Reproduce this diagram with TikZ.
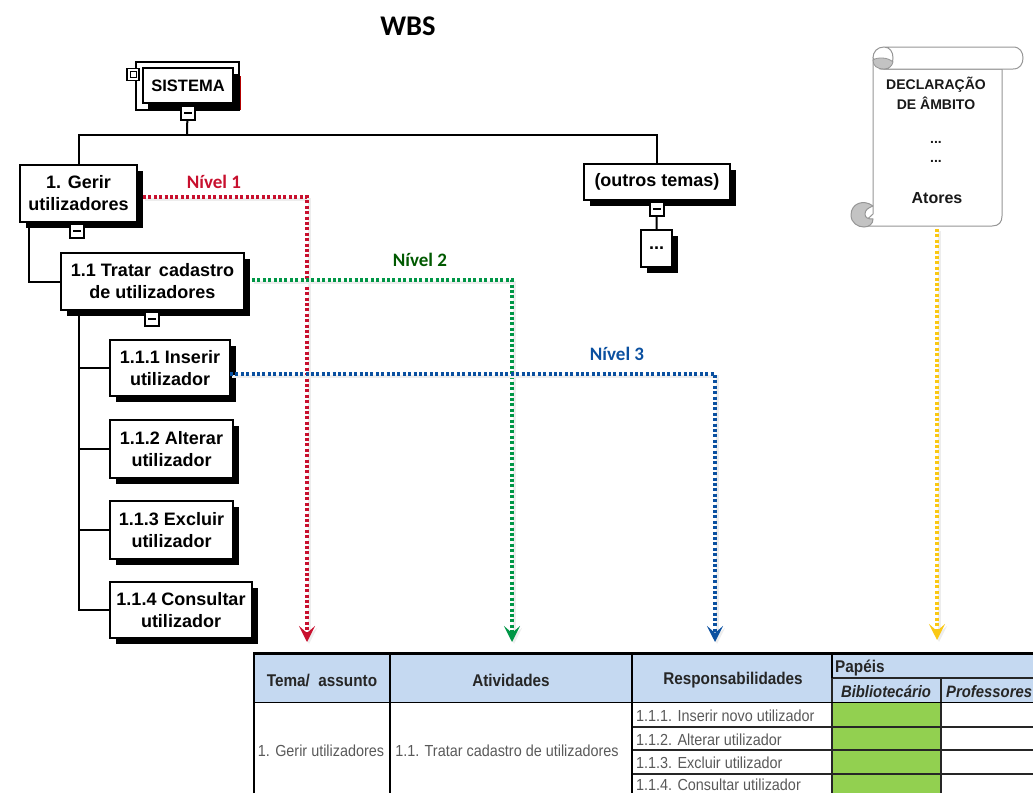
\documentclass[tikz,border=0pt]{standalone}
\usepackage{fontspec}
\setmainfont{Liberation Sans}
\newfontfamily\titlefont{Carlito}
\newfontfamily\narrowfont[FakeStretch=0.9]{Liberation Sans}
\usetikzlibrary{arrows.meta,shadows}
\definecolor{nivelred}{RGB}{200,16,46}
\definecolor{nivelgreen}{RGB}{0,150,70}
\definecolor{nivelblue}{RGB}{10,80,160}
\definecolor{atorgold}{RGB}{250,200,20}
\definecolor{headblue}{RGB}{197,217,241}
\definecolor{papelgreen}{RGB}{146,208,80}
\definecolor{scrollgray}{RGB}{150,150,150}
\definecolor{curlgray}{RGB}{195,195,195}
\tikzset{
    tema/.style={draw=black,fill=white,line width=2pt,align=center,inner sep=0pt,
        font=\bfseries\fontsize{18}{22}\selectfont,
        general shadow={shadow xshift=6pt,shadow yshift=-6pt,fill=black}},
    handle/.style={draw=black,fill=white,line width=1.6pt,minimum width=14pt,minimum height=14pt,inner sep=0pt},
    wbsline/.style={draw=black,line width=2pt},
    nivel/.style={line width=3.2pt,dash pattern=on 3pt off 2.4pt,
        -{Stealth[length=16pt,width=16pt,inset=7pt]},
        preaction={draw=black!7,line width=3pt,solid,transform canvas={shift={(2pt,-2pt)}}}},
    nivellabel/.style={font=\titlefont\bfseries\fontsize{19}{22}\selectfont},
    scrolltext/.style={font=\bfseries\fontsize{14}{18}\selectfont,text=black!90},
    headtext/.style={font=\narrowfont\bfseries\fontsize{17}{20}\selectfont,text=black!85},
    celltext/.style={font=\narrowfont\fontsize{16}{19}\selectfont,text=black!65},
    papeltext/.style={font=\narrowfont\bfseries\itshape\fontsize{16.5}{20}\selectfont,text=black!85},
}
\begin{document}
\begin{tikzpicture}[x=1pt,y=-1pt]
    \useasboundingbox (0,0) rectangle (1033,793);

    \node[font=\titlefont\bfseries\fontsize{28.5}{30}\selectfont] (title) at (408,26) {WBS};

    \draw[black,fill=white,line width=1.6pt] (136,62) rectangle (239,110);
    \fill[black] (148,74) rectangle (239,110);
    \draw[red!70!black,line width=.6pt] (240,76) -- (240,110);
    \node[draw=black,fill=white,line width=2pt,minimum width=90pt,minimum height=35pt,inner sep=0pt,
        font=\bfseries\fontsize{16.5}{20}\selectfont] (sistema) at (188,85.5) {SISTEMA};
    \node[draw=black,fill=white,line width=1.6pt,minimum size=12pt,inner sep=0pt] (canto) at (133,74.5) {};
    \node[draw=black,line width=1pt,minimum size=6pt,inner sep=0pt] (cantoin) at (133,74.5) {};

    \node[tema,minimum width=117pt,minimum height=57pt] (gerir) at (78.5,193.5) {1. Gerir\\utilizadores};
    \node[tema,minimum width=183pt,minimum height=57pt] (tratar) at (152.5,281.5) {1.1 Tratar\, cadastro\\de utilizadores};
    \node[tema,minimum width=120pt,minimum height=56pt] (inserir) at (170,368) {1.1.1 Inserir\\utilizador};
    \node[tema,minimum width=123pt,minimum height=58pt] (alterar) at (171.5,449) {1.1.2 Alterar\\utilizador};
    \node[tema,minimum width=123pt,minimum height=58pt] (excluir) at (171.5,530) {1.1.3 Excluir\\utilizador};
    \node[tema,minimum width=142pt,minimum height=56pt] (consultar) at (181,610) {1.1.4 Consultar\\utilizador};
    \node[tema,minimum width=146pt,minimum height=36pt] (outros) at (657,182) {(outros temas)};
    \node[tema,minimum width=31pt,minimum height=37pt] (pontos) at (656.5,248.5) {...};

    \coordinate (bus) at (187,135);
    \draw[wbsline] (sistema) -- (bus);
    \draw[wbsline] (bus) -| (gerir);
    \draw[wbsline] (bus) -| (outros);
    \draw[wbsline] ([xshift=10pt]gerir.south west) |- (tratar);
    \draw[wbsline] ([xshift=19pt]tratar.south west) |- (inserir);
    \draw[wbsline] ([xshift=19pt]tratar.south west) |- (alterar);
    \draw[wbsline] ([xshift=19pt]tratar.south west) |- (excluir);
    \draw[wbsline] ([xshift=19pt]tratar.south west) |- (consultar);
    \draw[wbsline] (outros) -- (pontos);

    \node[handle] (hsistema) at (188,113) {\rule{8pt}{1.6pt}};
    \node[handle] (hgerir) at (77,231) {\rule{8pt}{1.6pt}};
    \node[handle] (htratar) at (152,319) {\rule{8pt}{1.6pt}};
    \node[handle] (houtros) at (657,209) {\rule{8pt}{1.6pt}};

    \coordinate (fimum) at (307,642);
    \coordinate (fimdois) at (512,642);
    \coordinate (fimtres) at (715,642);
    \coordinate (fimator) at (937,640);
    \draw[nivel,nivelred] ([xshift=5pt,yshift=-3.5pt]gerir.east) -| (fimum);
    \draw[nivel,nivelgreen] ([xshift=7pt,yshift=1.5pt]tratar.east) -| (fimdois);
    \draw[nivel,nivelblue] ([xshift=-1pt,yshift=-6pt]inserir.east) -| (fimtres);
    \node[nivellabel,text=nivelred] (nivelum) at (214,182) {Nível 1};
    \node[nivellabel,text=green!35!black] (niveldois) at (420,260) {Nível 2};
    \node[nivellabel,text=nivelblue] (niveltres) at (617,354) {Nível 3};

    \draw[scrollgray,fill=white,line width=1pt] (873,58) -- (873,214) -- (860,226) -- (992,226)
        .. controls (999,226) and (1002,222) .. (1002,216) -- (1002,69) -- (884,69) -- cycle;
    \draw[scrollgray,fill=white,line width=1pt] (884,47) -- (1013,47)
        .. controls (1020,47) and (1023,52) .. (1023,58) .. controls (1023,64) and (1020,69) .. (1013,69)
        -- (884,69) .. controls (890,69) and (893,64) .. (893,58) .. controls (893,52) and (890,47) .. (884,47)
        .. controls (877,47) and (873,52) .. (873,58);
    \draw[scrollgray,fill=curlgray,line width=.8pt] (884,69) .. controls (877,69) and (873,66) .. (873,60)
        .. controls (877,57) and (888,57) .. (893,62) .. controls (892,66) and (889,69) .. (884,69);
    \draw[scrollgray,fill=curlgray,line width=1pt] (873,206) .. controls (864,199) and (851,203) .. (851,215)
        .. controls (851,223) and (858,227) .. (864,227) .. controls (869,227) and (873,224) .. (873,219)
        .. controls (868,219) and (865,218) .. (865,214) .. controls (865,210) and (868,208) .. (873,206);
    \node[scrolltext] (declaracao) at (936,85) {DECLARAÇÃO};
    \node[scrolltext] (ambito) at (936,103.5) {DE ÂMBITO};
    \node[scrolltext] (pontosa) at (936,142) {...};
    \node[scrolltext] (pontosb) at (936,161) {...};
    \node[scrolltext,font=\bfseries\fontsize{16}{18}\selectfont] (atores) at (937,198) {Atores};
    \coordinate (inicioator) at (937,229);
    \draw[nivel,atorgold] (inicioator) -- (fimator);

    \fill[headblue] (254,655) rectangle (1033,702);
    \fill[papelgreen] (832,702) rectangle (941,793);
    \draw[black!85,line width=1.2pt] (832,678) -- (1033,678);
    \foreach \ylinha in {727,750,774}
        \draw[black!85,line width=1.2pt] (632,\ylinha) -- (1033,\ylinha);
    \foreach \xlinha in {832,941}
        \draw[black!85,line width=1.2pt] (\xlinha,678) -- (\xlinha,793);
    \foreach \xlinha in {390,632}
        \draw[black,line width=1.6pt] (\xlinha,655) -- (\xlinha,793);
    \draw[black,line width=1.6pt] (832,655) -- (832,678);
    \draw[black,line width=1.6pt] (254,702.5) -- (1033,702.5);
    \draw[black,line width=1.8pt] (254,793) -- (254,653);
    \draw[black,line width=3pt] (253,653) -- (1033,653);

    \node[headtext] (tema) at (322,680) {Tema/\ \ assunto};
    \node[headtext] (atividades) at (511,680) {Atividades};
    \node[headtext] (resp) at (733,680) {Responsabilidades};
    \node[headtext,anchor=west,inner sep=0pt] (papeis) at (835,668) {Papéis};
    \node[papeltext] (biblio) at (886,692) {Bibliotecário};
    \node[papeltext,anchor=west,inner sep=0pt] (prof) at (946,692) {Professores};
    \node[celltext] (celtema) at (321,751) {1. Gerir utilizadores};
    \node[celltext] (celativ) at (507,751) {1.1. Tratar cadastro de utilizadores};
    \node[celltext,anchor=west,inner sep=0pt] (resa) at (636,715.5) {1.1.1. Inserir novo utilizador};
    \node[celltext,anchor=west,inner sep=0pt] (resb) at (636,739.5) {1.1.2. Alterar utilizador};
    \node[celltext,anchor=west,inner sep=0pt] (resc) at (636,763) {1.1.3. Excluir utilizador};
    \node[celltext,anchor=west,inner sep=0pt] (resd) at (636,784.5) {1.1.4. Consultar utilizador};
\end{tikzpicture}
\end{document}
